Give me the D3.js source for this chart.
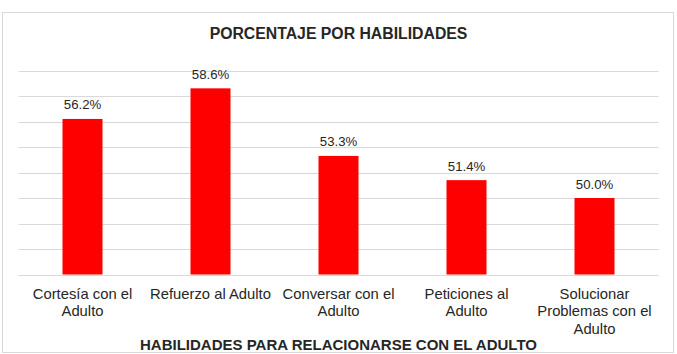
<!DOCTYPE html>
<html>
<head>
<meta charset="utf-8">
<script src="https://cdn.jsdelivr.net/npm/d3@7"></script>
<style>
  body { margin: 0; background: #fff; }
  text { font-family: Arial, "Liberation Sans", sans-serif; fill: #262626; }
</style>
</head>
<body>
<script>
// data
var categories = [
  ["Cortesía con el", "Adulto"],
  ["Refuerzo al Adulto"],
  ["Conversar con el", "Adulto"],
  ["Peticiones al", "Adulto"],
  ["Solucionar", "Problemas con el", "Adulto"]
];
var values = [56.2, 58.6, 53.3, 51.4, 50.0];
var yTicks = [44, 46, 48, 50, 52, 54, 56, 58, 60];

var width = 677, height = 354;

var svg = d3.select("body").append("svg")
    .attr("width", width)
    .attr("height", height);

// chart border
svg.append("rect")
   .attr("x", 2.5)
   .attr("y", 12.5)
   .attr("width", 671)
   .attr("height", 340)
   .attr("fill", "#fff")
   .attr("stroke", "#d9d9d9");

var x = d3.scaleBand()
          .domain(d3.range(categories.length))
          .range([18.5, 658.5])
          .paddingInner(0.6875)
          .paddingOuter(0.34375);

var y = d3.scaleLinear()
          .domain([44, 60])
          .range([274.5, 70.5]);

// gridlines
svg.append("g")
   .selectAll("line")
   .data(yTicks)
   .enter().append("line")
   .attr("x1", 18.5)
   .attr("x2", 658.5)
   .attr("y1", function(d) { return Math.round(y(d)) + 0.5; })
   .attr("y2", function(d) { return Math.round(y(d)) + 0.5; })
   .attr("stroke", "#d9d9d9")
   .attr("stroke-width", 1);

// bars
svg.append("g")
   .selectAll("rect")
   .data(values)
   .enter().append("rect")
   .attr("x", function(d, i) { return x(i); })
   .attr("y", function(d) { return y(d); })
   .attr("width", x.bandwidth())
   .attr("height", function(d) { return y(44) - y(d); })
   .attr("fill", "#ff0000");

// value labels
svg.append("g")
   .selectAll("text")
   .data(values)
   .enter().append("text")
   .attr("x", function(d, i) { return x(i) + x.bandwidth() / 2; })
   .attr("y", function(d) { return y(d) - 9.5; })
   .attr("text-anchor", "middle")
   .attr("font-size", "13.2px")
   .attr("fill", "#404040")
   .text(function(d) { return d.toFixed(1) + "%"; });

// category labels
var cat = svg.append("g")
   .selectAll("text")
   .data(categories)
   .enter().append("text")
   .attr("text-anchor", "middle")
   .attr("font-size", "14.8px")
   .attr("fill", "#404040");

cat.selectAll("tspan")
   .data(function(d, i) { return d.map(function(t) { return { t: t, i: i }; }); })
   .enter().append("tspan")
   .attr("x", function(d) { return x(d.i) + x.bandwidth() / 2; })
   .attr("y", function(d, j) { return 298.5 + j * 17.5; })
   .text(function(d) { return d.t; });

// title
svg.append("text")
   .attr("x", 338.5)
   .attr("y", 38.5)
   .attr("text-anchor", "middle")
   .attr("font-size", "15.8px")
   .attr("font-weight", "bold")
   .attr("fill", "#000")
   .text("PORCENTAJE POR HABILIDADES");

// x axis title
svg.append("text")
   .attr("x", 338.5)
   .attr("y", 350)
   .attr("text-anchor", "middle")
   .attr("font-size", "15px")
   .attr("font-weight", "bold")
   .attr("fill", "#000")
   .text("HABILIDADES PARA RELACIONARSE CON EL ADULTO");
</script>
</body>
</html>
